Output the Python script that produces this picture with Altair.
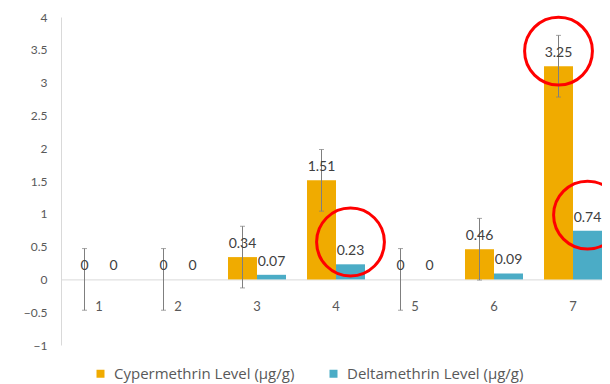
import altair as alt
import pandas as pd

categories = ["1", "2", "3", "4", "5", "6", "7"]
cyper_values = [0, 0, 0.34, 1.51, 0, 0.46, 3.25]
delta_values = [0, 0, 0.07, 0.23, 0, 0.09, 0.74]
cyper_err = [0.47, 0.47, 0.47, 0.47, 0.47, 0.47, 0.47]
series_names = ["Cypermethrin Level (µg/g)", "Deltamethrin Level (µg/g)"]
series_colors = ["#F0AB00", "#4BACC6"]
y_ticks = [-1, -0.5, 0, 0.5, 1, 1.5, 2, 2.5, 3, 3.5, 4]

# highlighted labels (red rings): category, series, ring centre value
ring_cats = ["4", "7", "7"]
ring_series = [series_names[1], series_names[0], series_names[1]]
ring_centres = [0.57, 3.48, 0.98]

W, H = 541, 328
YMIN, YMAX = -1, 4

bars = pd.DataFrame({
    "cat": categories * 2,
    "series": [series_names[0]] * 7 + [series_names[1]] * 7,
    "value": cyper_values + delta_values,
})
errs = pd.DataFrame({
    "cat": categories,
    "series": [series_names[0]] * 7,
    "lo": [v - e for v, e in zip(cyper_values, cyper_err)],
    "hi": [v + e for v, e in zip(cyper_values, cyper_err)],
})
rings = pd.DataFrame({"cat": ring_cats, "series": ring_series, "cy": ring_centres})

FONT = "Lato"
GREY = "#595959"

x_scale = alt.Scale(paddingInner=0.266, paddingOuter=0.057, align=1)
x_axis = alt.Axis(
    title=None, labelAngle=0, ticks=False, domainColor="#d9d9d9",
    labelColor=GREY, labelFont=FONT, labelFontSize=13, labelPadding=21,
    offset=-H * (0 - YMIN) / (YMAX - YMIN),
)
y_scale = alt.Scale(domain=[YMIN, YMAX], nice=False)
y_axis = alt.Axis(
    title=None, values=y_ticks, format=".1~f", grid=False, ticks=False,
    labelOverlap=False, labelFlush=False,
    domainColor="#d9d9d9", labelColor=GREY, labelFont=FONT, labelFontSize=12,
    labelPadding=14,
)
xo_enc = alt.XOffset("series:N", sort=series_names, scale=alt.Scale(domain=series_names))


def X():
    return alt.X("cat:N", sort=categories, scale=x_scale, axis=x_axis)


def Y(field):
    return alt.Y(field, scale=y_scale, axis=y_axis)


bar_layer = alt.Chart(bars).mark_bar().encode(
    x=X(), xOffset=xo_enc, y=Y("value:Q"),
    color=alt.Color("series:N", sort=series_names,
                    scale=alt.Scale(domain=series_names, range=series_colors),
                    legend=alt.Legend(title=None, orient="none", direction="horizontal",
                                      legendX=32, legendY=349, symbolType="square",
                                      symbolSize=64, symbolStrokeWidth=0,
                                      labelFont="Open Sans", labelFontSize=15, labelColor=GREY,
                                      labelLimit=400, labelOffset=6, columnPadding=31)),
)

err_rule = alt.Chart(errs).mark_rule(color="#7f7f7f", strokeWidth=1).encode(
    x=X(), xOffset=xo_enc, y=Y("lo:Q"), y2="hi:Q",
)
cap_lo = alt.Chart(errs).mark_tick(color="#7f7f7f", thickness=1, size=5, orient="horizontal").encode(
    x=X(), xOffset=xo_enc, y=Y("lo:Q"),
)
cap_hi = alt.Chart(errs).mark_tick(color="#7f7f7f", thickness=1, size=5, orient="horizontal").encode(
    x=X(), xOffset=xo_enc, y=Y("hi:Q"),
)

labels = alt.Chart(bars).mark_text(
    font=FONT, fontSize=14, color="#404040", baseline="middle", dy=-13
).encode(
    x=X(), xOffset=xo_enc, y=Y("value:Q"),
    text=alt.Text("value:Q", format=".2~f"),
)

ring_layer = alt.Chart(rings).mark_point(
    shape="circle", filled=False, stroke="#FF0000", strokeWidth=3, size=4600, opacity=1
).encode(
    x=X(), xOffset=xo_enc, y=Y("cy:Q"),
)

chart = alt.layer(bar_layer, err_rule, cap_lo, cap_hi, labels, ring_layer).properties(
    width=W, height=H,
    autosize=alt.AutoSizeParams(type="none"),
    padding={"left": 53, "top": 9, "right": 0, "bottom": 40},
    background="white",
).configure_view(stroke=None)

chart.save("out.html", embed_options={"renderer": "svg", "actions": False})
